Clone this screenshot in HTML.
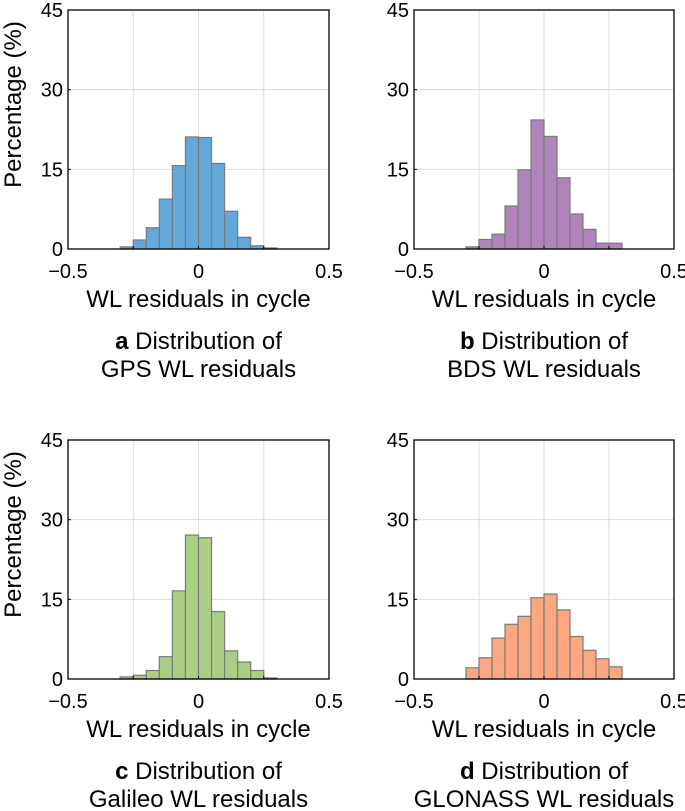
<!DOCTYPE html>
<html><head><meta charset="utf-8"><style>
body{margin:0;background:#fff;}
svg{display:block;font-family:"Liberation Sans",Arial,sans-serif;}
</style></head><body>
<svg id="fig" width="685" height="811"></svg>
<script>
const binStarts=[-0.3,-0.25,-0.2,-0.15,-0.1,-0.05,0,0.05,0.1,0.15,0.2,0.25];
const gpsValues=[0.4,1.7,4.0,9.4,15.7,21.1,21.0,16.1,7.1,2.2,0.6,0.2];
const bdsValues=[0.4,1.8,2.8,8.1,14.9,24.3,21.2,13.4,6.6,3.7,1.1,1.1];
const galileoValues=[0.4,0.7,1.6,4.2,16.6,27.1,26.6,12.7,5.3,3.2,1.6,0.2];
const glonassValues=[2.1,4.0,7.7,10.3,11.8,15.3,16.0,13.0,8.0,5.4,3.8,2.3];
const yTicks=[0,15,30,45];
const xTicks=[-0.5,0,0.5];
const xTickLabels=["\u22120.5","0","0.5"];
const panels=[
 {id:"a",sys:"GPS",vals:gpsValues,fill:"#62a9d9",x0:68,x1:329,y0:10,y1:249,ylab:true},
 {id:"b",sys:"BDS",vals:bdsValues,fill:"#b083bb",x0:414,x1:674,y0:10,y1:249,ylab:false},
 {id:"c",sys:"Galileo",vals:galileoValues,fill:"#acce84",x0:68,x1:329,y0:440,y1:679,ylab:true},
 {id:"d",sys:"GLONASS",vals:glonassValues,fill:"#fda781",x0:414,x1:674,y0:440,y1:679,ylab:false}
];
const binW=0.05;
const svg=document.getElementById('fig');
const NS="http://www.w3.org/2000/svg";
function mk(tag,attrs,parent){const e=document.createElementNS(NS,tag);for(const k in attrs)e.setAttribute(k,attrs[k]);(parent||svg).appendChild(e);return e;}
panels.forEach(p=>{
 const g=mk('g',{});
 
 
 const sx=v=>p.x0+(v+0.5)*(p.x1-p.x0);
 const sy=v=>p.y1-v/45*(p.y1-p.y0);
 [-0.25,0,0.25].forEach(v=>{const l=mk('line',{x1:sx(v),x2:sx(v),y1:p.y0,y2:p.y1,stroke:'#dcdcdc','stroke-width':1},g);
  });
 yTicks.slice(1,3).forEach(v=>{const l=mk('line',{x1:p.x0,x2:p.x1,y1:sy(v),y2:sy(v),stroke:'#dcdcdc','stroke-width':1},g);
  });
 p.vals.forEach((v,i)=>{const r=mk('rect',{x:sx(binStarts[i]),y:sy(v),width:sx(binStarts[i]+binW)-sx(binStarts[i]),height:sy(0)-sy(v),fill:p.fill,stroke:'#7a7a7a','stroke-width':1.2},g);
  });
 const box=mk('rect',{x:p.x0,y:p.y0,width:p.x1-p.x0,height:p.y1-p.y0,fill:'none',stroke:'#000','stroke-width':1.3},g);
 
 yTicks.forEach(v=>{mk('line',{x1:p.x0,x2:p.x0+3,y1:sy(v),y2:sy(v),stroke:'#000'},g);
  const t=mk('text',{x:p.x0-5,y:sy(v)+7,'text-anchor':'end','font-size':20},g);t.textContent=v;
  });
 [-0.25,0,0.25].forEach(v=>{mk('line',{x1:sx(v),x2:sx(v),y1:p.y1,y2:p.y1-3,stroke:'#000'},g);});
 xTicks.forEach((v,i)=>{const t=mk('text',{x:sx(v),y:p.y1+29,'text-anchor':'middle','font-size':20},g);t.textContent=xTickLabels[i];
  });
 const xt=mk('text',{x:(p.x0+p.x1)/2,y:p.y1+58,'text-anchor':'middle','font-size':24},g);xt.textContent='WL residuals in cycle';
 
 if(p.ylab){const yt=mk('text',{x:0,y:0,'text-anchor':'middle','font-size':24,transform:`translate(21,${(p.y0+p.y1)/2-25}) rotate(-90)`},g);yt.textContent='Percentage (%)';
  }
 const c1=mk('text',{x:(p.x0+p.x1)/2,y:p.y1+100,'text-anchor':'middle','font-size':24},g);
 c1.innerHTML='<tspan font-weight="bold">'+p.id+'</tspan> Distribution of';
 
 const c2=mk('text',{x:(p.x0+p.x1)/2,y:p.y1+128,'text-anchor':'middle','font-size':24},g);c2.textContent=p.sys+' WL residuals';
 
});
</script>
</body></html>
